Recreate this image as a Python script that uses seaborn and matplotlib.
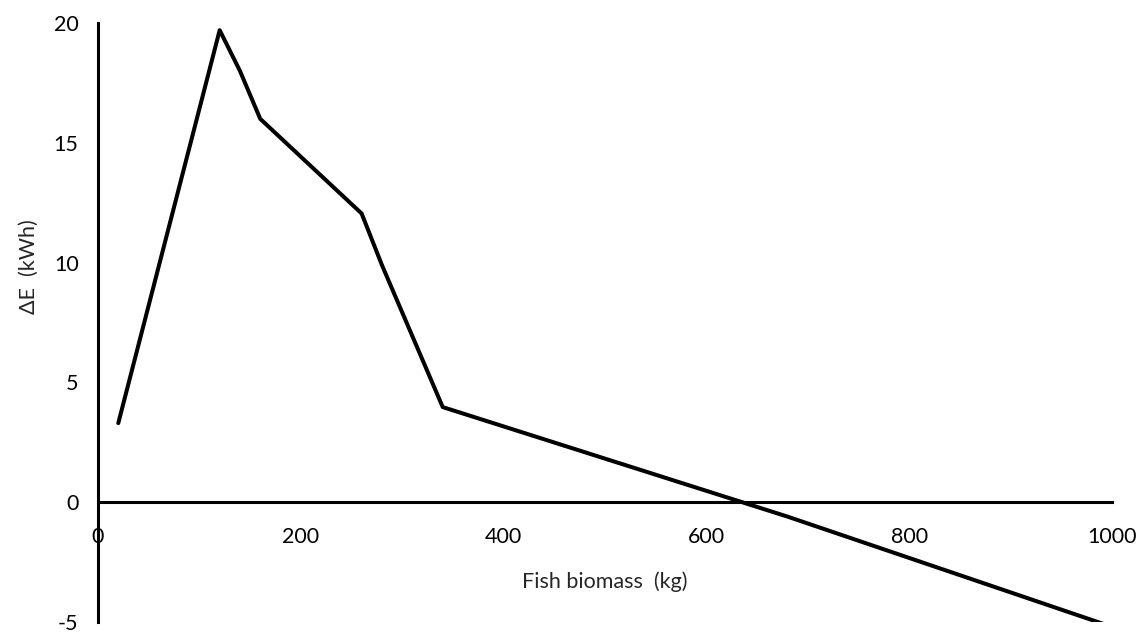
import matplotlib
matplotlib.use('Agg')
import matplotlib.pyplot as plt
import seaborn as sns
import pandas as pd

# values
biomass_kg = [20, 120, 140, 160, 260, 280, 340, 680, 1000]
delta_e_kwh = [3.3, 19.7, 18.0, 16.0, 12.05, 9.9, 3.97, -0.6, -5.2]
x_ticks = [0, 200, 400, 600, 800, 1000]
y_ticks = [-5, 0, 5, 10, 15, 20]

df = pd.DataFrame({'biomass': biomass_kg, 'dE': delta_e_kwh})

sns.set_style('white')
plt.rcParams['font.family'] = ['Lato', 'DejaVu Sans']
plt.rcParams['axes.unicode_minus'] = False

fig = plt.figure(figsize=(11.45, 6.32), dpi=100)
ax = fig.add_axes([0.0856, 0.0158, 0.8855, 0.9478])

sns.lineplot(data=df, x='biomass', y='dE', color='black', linewidth=2.9,
             sort=False, ax=ax)

ax.set_xlim(0, 1000)
ax.set_ylim(-5, 20)
ax.set_xticks(x_ticks)
ax.set_yticks(y_ticks)

# spines: x axis through y=0
for s in ['top', 'right']:
    ax.spines[s].set_visible(False)
ax.spines['bottom'].set_position(('data', 0))
for s in ['bottom', 'left']:
    ax.spines[s].set_linewidth(2.2)
    ax.spines[s].set_color('black')

ax.tick_params(axis='both', direction='out', length=6, width=2.2,
               colors='black', labelsize=15.5)
ax.tick_params(axis='x', pad=12)
ax.tick_params(axis='y', pad=8)

ax.set_xlabel('')
ax.set_ylabel('')
fig.text(0.528, 0.079, 'Fish biomass  (kg)', ha='center', va='center', fontsize=15.5)
fig.text(0.025, 0.578, 'ΔE  (kWh)', ha='center', va='center', rotation=90, fontsize=15.5)

fig.savefig('out.png', dpi=100)
